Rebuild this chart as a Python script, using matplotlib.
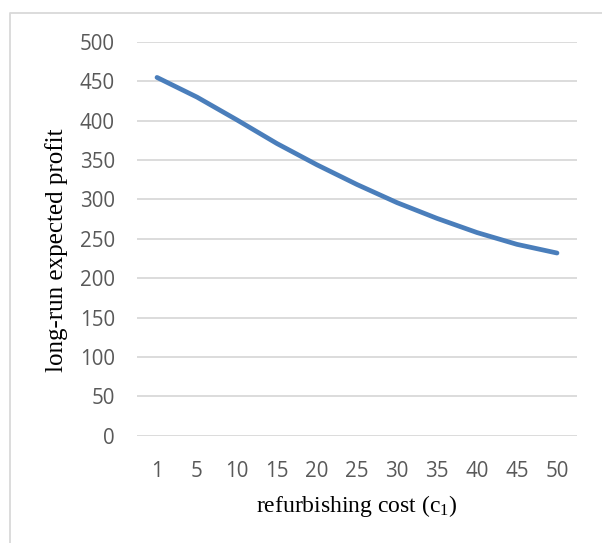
import matplotlib
matplotlib.use("Agg")
import matplotlib.pyplot as plt
from matplotlib.lines import Line2D

# refurbishing cost categories and long-run expected profit
cost_labels = ["1", "5", "10", "15", "20", "25", "30", "35", "40", "45", "50"]
profit = [455, 430, 401, 371, 344, 319, 296, 276, 258, 243, 232]
y_ticks = [0, 50, 100, 150, 200, 250, 300, 350, 400, 450, 500]

plt.rcParams["mathtext.fontset"] = "custom"
plt.rcParams["mathtext.rm"] = "Liberation Serif"
plt.rcParams["mathtext.it"] = "Liberation Serif"

W, H = 602, 543
fig = plt.figure(figsize=(W / 100, H / 100), dpi=100)
ax = fig.add_axes([137 / W, 1 - 435.7 / H, 440 / W, (435.7 - 42) / H])

x = list(range(len(cost_labels)))
ax.plot(x, profit, color="#4a7ebb", lw=3.4, solid_capstyle="round",
        solid_joinstyle="round", zorder=3)

ax.set_xlim(-0.5, len(cost_labels) - 0.5)
ax.set_ylim(0, 500)
ax.set_yticks(y_ticks)
ax.set_xticks(x)
ax.set_xticklabels(cost_labels)
ax.grid(axis="y", color="#d9d9d9", lw=1.3)
ax.set_axisbelow(True)
for s in ax.spines.values():
    s.set_visible(False)
ax.tick_params(length=0, labelsize=14.8, labelcolor="#595959")
for lab in ax.get_xticklabels() + ax.get_yticklabels():
    lab.set_fontfamily("Open Sans")
ax.tick_params(axis="y", pad=16)
ax.tick_params(axis="x", pad=18)

fig.text(357 / W, 1 - 512 / H, r"refurbishing cost (c$_\mathrm{1}$)",
         fontfamily="Liberation Serif", fontsize=17, ha="center", va="baseline")
fig.text(57 / W, 1 - 250 / H, "long-run expected profit",
         fontfamily="Liberation Serif", fontsize=18, rotation=90,
         ha="center", va="center")

# chart area border (left and top edges visible)
fig.add_artist(Line2D([9.5 / W, 9.5 / W, 1.0], [0.0, 1 - 12.7 / H, 1 - 12.7 / H],
                      transform=fig.transFigure, color="#d9d9d9", lw=1.3))

fig.savefig("out.png", dpi=100)
